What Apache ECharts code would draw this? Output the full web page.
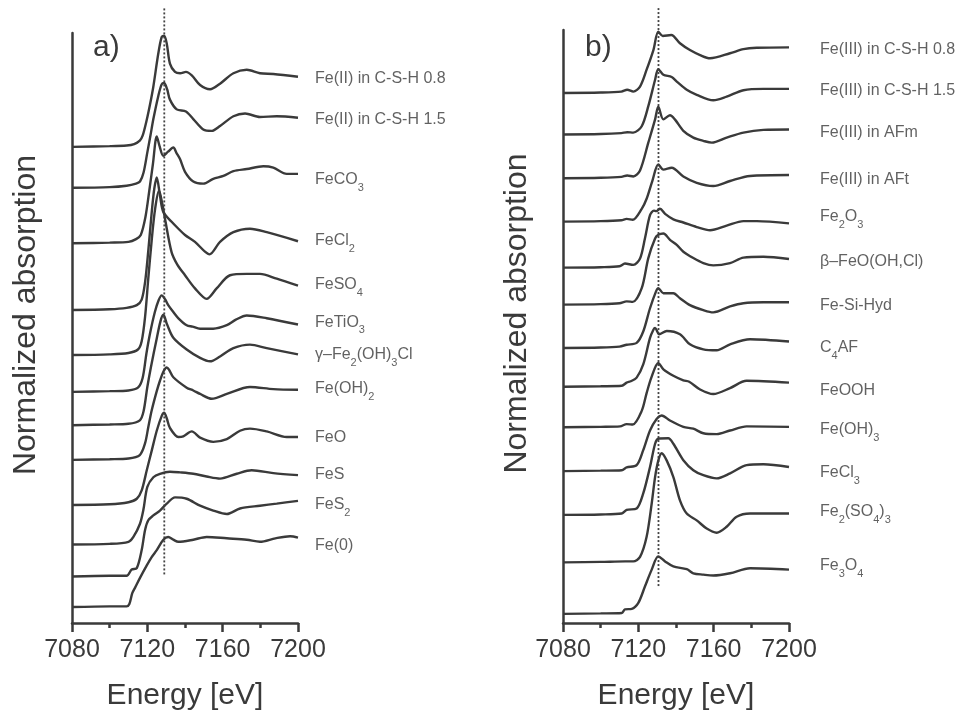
<!DOCTYPE html>
<html><head><meta charset="utf-8">
<script src="https://cdn.jsdelivr.net/npm/echarts@6/dist/echarts.min.js"></script>
<style>html,body{margin:0;padding:0;background:#fff}#c{width:957px;height:716px}</style>
</head><body><div id="c"></div>
<script>
// ---------------- DATA ----------------
// x: photon energy [eV]; y: normalized absorption (each spectrum stacked by an offset)
const energyMin = 7080, energyMax = 7200, energyStep = 40;
const edgeRefA = 7129;     // dotted reference line, panel a
const edgeRefB = 7130.7;   // dotted reference line, panel b

// ---- Panel a : Fe(II) / reduced references, [energy, normalized absorption]
const aFeII_CSH08 = [[7080,0],[7100,0.01],[7109,0.02],[7113,0.04],[7116,0.09],[7117.5,0.16],[7119.7,0.39],[7121.5,0.62],[7123.2,0.87],[7125.8,1.34],[7127.6,1.58],[7128.9,1.6],[7130.3,1.49],[7132,1.2],[7134.7,1.08],[7137.4,1.06],[7140.5,1.08],[7143.6,1.03],[7148,0.89],[7153.3,0.83],[7158.6,0.91],[7165.7,1.06],[7172.8,1.11],[7179.8,1.06],[7186.9,1.05],[7200,1.01]];
const aFeII_CSH15 = [[7080,0],[7100,0.01],[7109,0.03],[7114,0.06],[7116.1,0.09],[7118,0.22],[7120,0.51],[7121.7,0.76],[7123.2,0.99],[7125.8,1.32],[7127.6,1.49],[7128.9,1.51],[7130.5,1.42],[7132,1.27],[7135.6,1.13],[7140.5,1.1],[7144.4,0.99],[7149.7,0.84],[7154.2,0.82],[7158.6,0.89],[7165.7,1.03],[7171.9,1.07],[7179.8,1.02],[7188.7,1.03],[7200,1.01]];
const aFeCO3 = [[7080,0],[7100,0.01],[7110,0.02],[7114,0.06],[7116.5,0.12],[7119,0.38],[7121,0.75],[7123,1.15],[7125,1.54],[7126.5,1.4],[7128.5,1.26],[7131,1.32],[7133.8,1.38],[7135.5,1.3],[7137.4,1.21],[7140,1.03],[7144.4,0.89],[7149.7,0.86],[7155,0.93],[7160.4,0.97],[7165.7,1.04],[7172.8,1.07],[7181.6,1.11],[7186.9,1.09],[7194,1.0],[7200,1.0]];
const aFeCl2 = [[7080,0],[7100,0.01],[7109,0.03],[7114.4,0.07],[7117,0.15],[7118.8,0.4],[7120.5,0.85],[7122.3,1.4],[7123.7,1.75],[7125,1.91],[7126.7,1.65],[7128.5,1.41],[7132.9,1.27],[7136.5,1.17],[7140,1.08],[7145.3,0.98],[7150.6,0.84],[7153,0.8],[7158.6,0.98],[7165.7,1.12],[7174.5,1.17],[7183.4,1.12],[7200,0.99]];
const aFeSO4 = [[7080,0],[7100,0.01],[7110,0.03],[7115,0.08],[7117,0.2],[7118.8,0.55],[7120.5,1.1],[7122.3,1.65],[7124.1,2.1],[7126.2,2.37],[7127.8,2.2],[7129.4,1.96],[7132.9,1.48],[7136,1.3],[7140,1.15],[7145.3,0.96],[7151.5,0.81],[7156.8,0.96],[7163.9,1.15],[7172.8,1.17],[7179.8,1.17],[7188.7,1.1],[7200,1.0]];
const aFeTiO3 = [[7080,0],[7100,0.01],[7110,0.02],[7115,0.06],[7117.5,0.2],[7119.5,0.55],[7121.5,0.85],[7124,1.15],[7126,1.32],[7127.6,1.39],[7129.5,1.33],[7131.1,1.25],[7133.8,1.15],[7136.5,1.06],[7140.9,0.96],[7144,0.94],[7148,0.91],[7155,0.91],[7162.2,0.96],[7167,1.04],[7172.8,1.1],[7183.4,1.06],[7200,0.97]];
const aGammaFe2OH3Cl = [[7080,0],[7100,0.01],[7110,0.02],[7116,0.07],[7118,0.2],[7120,0.55],[7122,0.85],[7125,1.25],[7127,1.5],[7128.5,1.59],[7130.5,1.45],[7133.8,1.26],[7140.9,1.09],[7148,0.97],[7153.3,0.92],[7158.6,0.99],[7165.7,1.11],[7174.5,1.16],[7183.4,1.11],[7200,1.02]];
const aFeOH2 = [[7080,0],[7100,0.01],[7110,0.02],[7116,0.07],[7118.8,0.24],[7120.5,0.47],[7122.3,0.71],[7125,0.99],[7126.7,1.14],[7128.5,1.27],[7130.3,1.33],[7131.5,1.3],[7133.8,1.19],[7140.9,1.04],[7144.4,1.0],[7148,0.95],[7154.2,0.88],[7162.2,0.95],[7174.5,1.05],[7186.9,1.02],[7200,1.01]];
const aFeO = [[7080,0],[7100,0.01],[7110,0.04],[7114.4,0.09],[7117,0.21],[7119.7,0.5],[7122.3,0.78],[7125,1.07],[7127.6,1.28],[7128.9,1.33],[7130.3,1.25],[7132,1.11],[7136.5,0.98],[7139.1,0.99],[7143.6,1.06],[7148,0.97],[7155,0.91],[7162.2,0.95],[7169.2,1.07],[7174.5,1.1],[7183.4,1.06],[7194,0.98],[7200,0.98]];
const aFeS = [[7080,0],[7100,0.01],[7110,0.04],[7112.6,0.11],[7116.1,0.3],[7117.9,0.5],[7120,0.83],[7123.2,0.97],[7126.7,1.02],[7132,1.05],[7137.4,1.04],[7144.4,1.02],[7151.5,0.98],[7158.6,0.95],[7167.5,1.02],[7175.4,1.07],[7186.9,1.03],[7200,1.0]];
const aFeS2 = [[7080,0],[7100,0.01],[7109,0.01],[7111.7,0.1],[7114.4,0.12],[7117,0.38],[7118.8,0.67],[7120.5,0.81],[7123.2,0.88],[7126.7,0.95],[7130.3,1.05],[7134.7,1.14],[7140.9,1.12],[7148,1.02],[7155,0.95],[7162.2,0.9],[7169.2,0.98],[7179.8,1.02],[7188.7,1.05],[7200,1.09]];
const aFe0 = [[7080,0],[7100,0.01],[7109,0.01],[7110.4,0.04],[7112,0.2],[7113.5,0.28],[7116.1,0.42],[7119.7,0.6],[7122.3,0.72],[7125,0.82],[7128.5,0.97],[7131.1,1.01],[7133.8,0.97],[7136.5,0.94],[7144.4,0.97],[7151.5,1.01],[7162.2,0.99],[7172.8,0.97],[7179.8,0.94],[7188,0.99],[7195.8,1.02],[7200,1.0]];

const aSpectra = [aFeII_CSH08, aFeII_CSH15, aFeCO3, aFeCl2, aFeSO4, aFeTiO3, aGammaFe2OH3Cl, aFeOH2, aFeO, aFeS, aFeS2, aFe0];
const aOffsets = [6.86, 6.27, 5.47, 4.51, 3.86, 3.33, 2.85, 2.35, 1.70, 1.13, 0.67, 0.23];
const aLabels = ['Fe(II) in C-S-H 0.8','Fe(II) in C-S-H 1.5','FeCO{s|3}','FeCl{s|2}','FeSO{s|4}','FeTiO{s|3}','γ–Fe{s|2}(OH){s|3}Cl','Fe(OH){s|2}','FeO','FeS','FeS{s|2}','Fe(0)'];
const aLabelY = [7.84, 7.255, 6.385, 5.505, 4.875, 4.335, 3.865, 3.375, 2.675, 2.145, 1.705, 1.115];

// ---- Panel b : Fe(III) references
const bFeIII_CSH08 = [[7080,0],[7100,0.01],[7111,0.03],[7114.1,0.07],[7117.3,0.03],[7120.9,0.14],[7124.4,0.51],[7128,0.94],[7130.6,1.34],[7133,1.25],[7137.5,1.27],[7142.1,1.09],[7147.4,0.94],[7152.8,0.83],[7158.1,0.76],[7168.7,0.87],[7175.8,0.96],[7182.9,0.99],[7200,1.0]];
const bFeIII_CSH15 = [[7080,0],[7100,0.01],[7111,0.03],[7114.1,0.05],[7117.3,0.04],[7121.8,0.18],[7125.3,0.62],[7128.9,1.2],[7130.6,1.43],[7133.3,1.31],[7137.7,1.26],[7140.4,1.16],[7145.7,0.98],[7151,0.87],[7159.8,0.75],[7166.9,0.83],[7175.8,0.97],[7186.4,1.0],[7200,1.0]];
const bFeIII_AFm = [[7080,0],[7100,0.01],[7111,0.03],[7114.1,0.06],[7117.3,0.04],[7120.9,0.17],[7125.3,0.78],[7128.9,1.29],[7130.6,1.57],[7133.3,1.29],[7136.8,1.38],[7139.4,1.29],[7143.9,1.04],[7149.2,0.89],[7154.5,0.82],[7159,0.78],[7166.9,0.89],[7175.8,1.0],[7186.4,1.06],[7200,1.07]];
const bFeIII_AFt = [[7080,0],[7100,0.01],[7111,0.03],[7113.8,0.06],[7117,0.04],[7121.8,0.28],[7124.4,0.5],[7127.5,0.9],[7130.6,1.25],[7133.3,1.14],[7137.7,1.18],[7143.9,0.99],[7151,0.85],[7159.8,0.78],[7168.7,0.89],[7179.3,1.0],[7200,1.02]];
const bFe2O3 = [[7080,0],[7100,0.01],[7110,0.03],[7112.9,0.09],[7117.3,0.06],[7120.9,0.2],[7123.5,0.64],[7126.2,1.15],[7128.3,1.25],[7129.5,1.24],[7131.5,1.29],[7134.2,1.18],[7138.6,1.06],[7143.9,0.99],[7151,0.89],[7158.1,0.82],[7166.9,0.92],[7175.8,1.02],[7182.9,1.02],[7200,0.97]];
const bBetaFeOOHCl = [[7080,0],[7100,0.01],[7110,0.03],[7113.8,0.07],[7117,0.06],[7121.8,0.36],[7125.3,1.02],[7128.9,1.45],[7130.6,1.53],[7133.3,1.56],[7136.8,1.42],[7140.4,1.31],[7143.9,1.16],[7149.2,1.02],[7154.5,0.91],[7159.8,0.86],[7168.7,0.91],[7175.8,1.03],[7186.4,1.05],[7200,1.0]];
const bFeSiHyd = [[7080,0],[7100,0.01],[7110,0.03],[7113.8,0.07],[7119.1,0.11],[7122.6,0.36],[7126.2,0.87],[7129.4,1.24],[7130.6,1.31],[7133.3,1.2],[7138.6,1.2],[7142.1,1.09],[7147.4,0.94],[7154.5,0.83],[7159.8,0.78],[7168.7,0.91],[7175.8,0.98],[7186.4,1.0],[7200,1.0]];
const bC4AF = [[7080,0],[7100,0.01],[7111.2,0.02],[7113.8,0.09],[7116,0.12],[7119.1,0.2],[7122.6,0.49],[7126.2,1.07],[7128,1.25],[7128.9,1.29],[7131.1,1.15],[7135.1,1.22],[7142.1,1.15],[7147.4,0.93],[7154.5,0.82],[7161.6,0.8],[7168.7,0.93],[7179.3,1.04],[7200,0.99]];
const bFeOOH = [[7080,0],[7100,0.01],[7110.3,0.02],[7113.8,0.07],[7117,0.06],[7121.8,0.36],[7124.4,0.75],[7127,1.1],[7130.6,1.41],[7133.3,1.27],[7138.6,1.13],[7143.9,1.03],[7147,1.0],[7152.8,0.83],[7159.8,0.73],[7168.7,0.86],[7177.5,1.02],[7200,0.98]];
const bFeOH3 = [[7080,0],[7100,0.01],[7111.2,0.02],[7113.8,0.08],[7119.1,0.13],[7122.6,0.46],[7126.2,0.89],[7129.8,1.15],[7132.4,1.22],[7136.8,1.11],[7143.9,0.97],[7149.2,0.93],[7154.5,0.83],[7161.6,0.81],[7168.7,0.89],[7177.5,0.98],[7200,0.97]];
const bFeCl3 = [[7080,0],[7100,0.01],[7111.2,0.03],[7113.8,0.11],[7119.1,0.14],[7122.6,0.47],[7126.2,1.05],[7128.9,1.56],[7130.6,1.67],[7135.9,1.68],[7138.6,1.56],[7143.9,1.2],[7149.2,0.98],[7154.5,0.87],[7161.6,0.8],[7168.7,0.91],[7177.5,1.09],[7186.4,1.11],[7200,1.05]];
const bFe2SO43 = [[7080,0],[7100,0.01],[7113,0.02],[7117.3,0.02],[7120.9,0.12],[7124.4,0.56],[7127.1,1.29],[7128.9,1.87],[7130.6,2.23],[7132.4,2.39],[7135.1,2.23],[7138.6,1.87],[7142.1,1.36],[7145.7,1.07],[7151,0.92],[7156.3,0.74],[7161.6,0.65],[7166.9,0.78],[7172.2,1.0],[7179.3,1.07],[7200,1.07]];
const bFe3O4 = [[7080,0],[7100,0.01],[7111.2,0.02],[7112.9,0.1],[7116.5,0.11],[7120,0.24],[7123.5,0.6],[7127.1,0.97],[7130.6,1.26],[7134.2,1.15],[7138.6,1.04],[7145.7,0.98],[7149.2,0.89],[7154.5,0.86],[7159.8,0.84],[7168.7,0.89],[7179.3,1.0],[7200,0.97]];

const bSpectra = [bFeIII_CSH08, bFeIII_CSH15, bFeIII_AFm, bFeIII_AFt, bFe2O3, bBetaFeOOHCl, bFeSiHyd, bC4AF, bFeOOH, bFeOH3, bFeCl3, bFe2SO43, bFe3O4];
const bOffsets = [11.62, 10.71, 9.75, 8.80, 7.79, 6.98, 6.03, 5.18, 4.29, 3.33, 2.37, 1.33, 0.20];
const bLabels = ['Fe(III) in C-S-H 0.8','Fe(III) in C-S-H 1.5','Fe(III) in AFm','Fe(III) in AFt','Fe{s|2}O{s|3}','β–FeO(OH,Cl)','Fe-Si-Hyd','C{s|4}AF','FeOOH','Fe(OH){s|3}','FeCl{s|3}','Fe{s|2}(SO{s|4}){s|3}','Fe{s|3}O{s|4}'];
const bLabelY = [12.57, 11.68, 10.76, 9.72, 8.91, 7.93, 6.95, 6.04, 5.10, 4.23, 3.29, 2.44, 1.25];

const aDotted = [[edgeRefA, 0.70], [edgeRefA, 8.86]];
const bDotted = [[edgeRefB, 0.81], [edgeRefB, 13.48]];

// ---------------- CHART ----------------
const INK = '#3a3a3a';
const FONT = '"Liberation Sans", Arial, sans-serif';
const chart = echarts.init(document.getElementById('c'), null, {renderer: 'canvas'});

function xAxisCfg(gi) {
  return {
    gridIndex: gi, type: 'value', min: energyMin, max: energyMax, interval: energyStep,
    name: 'Energy [eV]', nameLocation: 'middle', nameGap: 58,
    nameTextStyle: {fontSize: 30, color: INK, fontFamily: FONT},
    axisLine: {show: true, onZero: false, lineStyle: {color: INK, width: 2.5}},
    axisTick: {show: true, inside: false, length: 9, lineStyle: {color: INK, width: 2.5}},
    minorTick: {show: true, splitNumber: 2, length: 5, lineStyle: {color: INK, width: 2.5}},
    axisLabel: {fontSize: 25, color: INK, margin: 15, fontFamily: FONT, formatter: v => String(v)},
    splitLine: {show: false}, minorSplitLine: {show: false}
  };
}
function yAxisCfg(gi, max) {
  return {
    gridIndex: gi, type: 'value', min: 0, max: max,
    name: 'Normalized absorption', nameLocation: 'middle', nameGap: 30, nameRotate: 90,
    nameTextStyle: {fontSize: 32, color: INK, fontFamily: FONT, padding: [0, 0, 0, 26]},
    axisLine: {show: true, onZero: false, lineStyle: {color: INK, width: 2.5}},
    axisTick: {show: false}, axisLabel: {show: false}, splitLine: {show: false}
  };
}

const series = [];
function addPanel(gi, spectra, offsets, labels, labelY, dotted, labelDist) {
  spectra.forEach((sp, i) => {
    series.push({
      type: 'line', xAxisIndex: gi, yAxisIndex: gi,
      data: sp.map(p => [p[0], p[1] + offsets[i]]),
      showSymbol: false, symbol: 'none', smooth: 0.3, silent: true,
      lineStyle: {color: INK, width: 2.4}, z: 3
    });
  });
  series.push({
    type: 'line', xAxisIndex: gi, yAxisIndex: gi, data: dotted, clip: false,
    showSymbol: false, symbol: 'none', silent: true,
    lineStyle: {color: '#444', width: 1.8, type: [2, 2]}, z: 2
  });
  series.push({
    type: 'scatter', xAxisIndex: gi, yAxisIndex: gi, clip: false, symbolSize: 0, silent: true,
    data: labels.map((t, i) => ({value: [energyMax, labelY[i]], name: t})),
    label: {
      show: true, position: 'right', distance: labelDist,
      formatter: p => p.name,
      fontSize: 16, color: INK, fontFamily: FONT,
      rich: {s: {fontSize: 11, color: INK, fontFamily: FONT, padding: [16, 0, 0, 0]}}
    }
  });
}
addPanel(0, aSpectra, aOffsets, aLabels, aLabelY, aDotted, 17);
addPanel(1, bSpectra, bOffsets, bLabels, bLabelY, bDotted, 31);

chart.setOption({
  animation: false,
  backgroundColor: '#fff',
  grid: [
    {left: 72, top: 33, width: 226, height: 594},
    {left: 563, top: 30, width: 226, height: 597}
  ],
  xAxis: [xAxisCfg(0), xAxisCfg(1)],
  yAxis: [yAxisCfg(0, 8.5), yAxisCfg(1, 13)],
  graphic: [
    {type: 'text', left: 93, top: 33, style: {text: 'a)', fontSize: 30, fill: INK, fontFamily: FONT}},
    {type: 'text', left: 585, top: 33, style: {text: 'b)', fontSize: 30, fill: INK, fontFamily: FONT}}
  ],
  series: series
});
</script></body></html>
